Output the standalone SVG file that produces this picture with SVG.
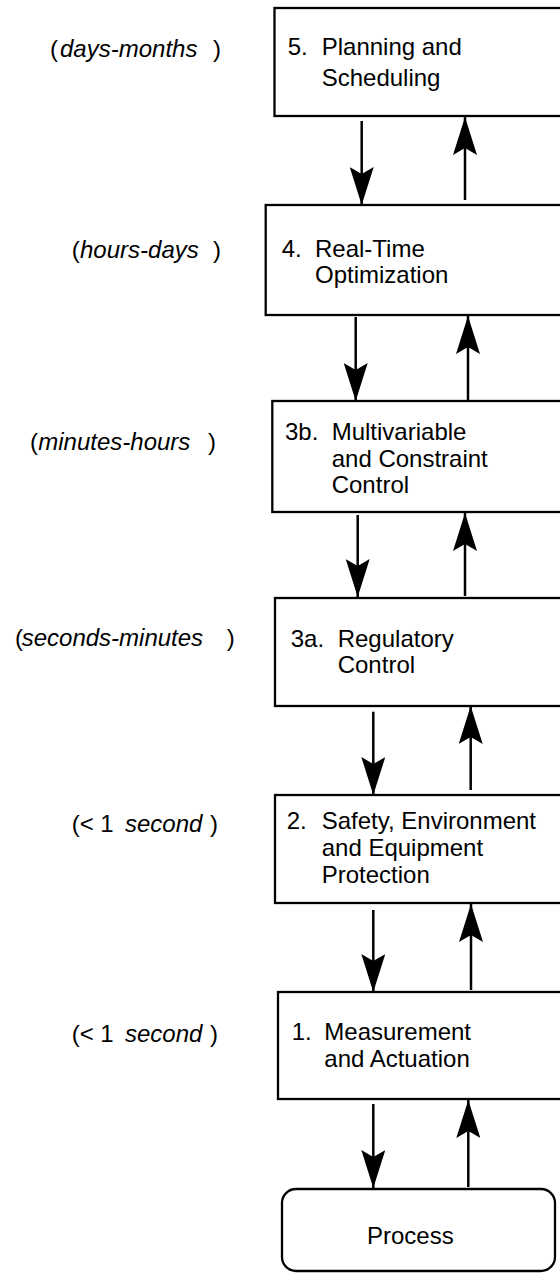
<svg xmlns="http://www.w3.org/2000/svg" width="560" height="1278" viewBox="0 0 560 1278">
<style>
.box{fill:#fff;stroke:#000;stroke-width:2.3}
.t{font-family:"Liberation Sans",Arial,sans-serif;font-size:24px;fill:#000}
.i{font-style:italic}
.c{stroke:#000;stroke-width:2.5;fill:none;marker-end:url(#ah)}
</style>
<defs>
<marker id="ah" viewBox="0 0 38 24" refX="38" refY="12" markerWidth="38" markerHeight="24" markerUnits="userSpaceOnUse" orient="auto">
<path d="M0,0 L38,12 L0,24 L7,12 z" fill="#000"/>
</marker>
</defs>
<rect width="560" height="1278" fill="#fff"/>
<g id="labels">
<text class="t" y="57"><tspan x="50">(</tspan><tspan x="60" class="i">days-months</tspan><tspan x="213">)</tspan></text>
<text class="t" y="258"><tspan x="71.7">(</tspan><tspan x="80" class="i">hours-days</tspan><tspan x="213">)</tspan></text>
<text class="t" y="450"><tspan x="30">(</tspan><tspan x="38.3" class="i">minutes-hours</tspan><tspan x="208">)</tspan></text>
<text class="t" y="646"><tspan x="15">(</tspan><tspan x="21.7" class="i">seconds-minutes</tspan><tspan x="226.7">)</tspan></text>
<text class="t" y="832"><tspan x="71.7">(&lt; 1</tspan><tspan x="125" class="i">second</tspan><tspan x="210">)</tspan></text>
<text class="t" y="1042"><tspan x="71.7">(&lt; 1</tspan><tspan x="125" class="i">second</tspan><tspan x="210">)</tspan></text>
</g>
<g id="node5">
<rect class="box" x="274.5" y="8" width="330" height="108"/>
<text class="t" y="55"><tspan x="287.7">5.</tspan><tspan x="321.7">Planning and</tspan></text>
<text class="t" x="321.7" y="86">Scheduling</text>
</g>
<g id="node4">
<rect class="box" x="265.7" y="205" width="340" height="110"/>
<text class="t" y="256.7"><tspan x="281.7">4.</tspan><tspan x="315">Real-Time</tspan></text>
<text class="t" x="315" y="283">Optimization</text>
</g>
<g id="node3b">
<rect class="box" x="272.3" y="401" width="340" height="111"/>
<text class="t" y="440"><tspan x="285">3b.</tspan><tspan x="331.7">Multivariable</tspan></text>
<text class="t" x="331.7" y="467">and Constraint</text>
<text class="t" x="331.7" y="493">Control</text>
</g>
<g id="node3a">
<rect class="box" x="275" y="598" width="340" height="108"/>
<text class="t" y="646.7"><tspan x="290.7">3a.</tspan><tspan x="337.7">Regulatory</tspan></text>
<text class="t" x="337.7" y="673">Control</text>
</g>
<g id="node2">
<rect class="box" x="275" y="795" width="340" height="108"/>
<text class="t" y="829"><tspan x="286.7">2.</tspan><tspan x="321.7">Safety, Environment</tspan></text>
<text class="t" x="321.7" y="855.7">and Equipment</text>
<text class="t" x="321.7" y="883">Protection</text>
</g>
<g id="node1">
<rect class="box" x="278" y="992" width="340" height="107"/>
<text class="t" y="1040"><tspan x="291.7">1.</tspan><tspan x="324.3">Measurement</tspan></text>
<text class="t" x="324.3" y="1066.7">and Actuation</text>
</g>
<g id="process">
<rect class="box" x="282" y="1189" width="273" height="82" rx="14"/>
<text class="t" x="410.3" y="1244" text-anchor="middle">Process</text>
</g>
<g id="connectors">
<line class="c" x1="361.7" y1="121" x2="361.7" y2="205"/>
<line class="c" x1="465" y1="200" x2="465" y2="117"/>
<line class="c" x1="355.7" y1="317" x2="355.7" y2="401"/>
<line class="c" x1="468" y1="400" x2="468" y2="316"/>
<line class="c" x1="357.7" y1="515" x2="357.7" y2="597"/>
<line class="c" x1="465" y1="596" x2="465" y2="513"/>
<line class="c" x1="373.3" y1="711.7" x2="373.3" y2="795"/>
<line class="c" x1="470.7" y1="790" x2="470.7" y2="706"/>
<line class="c" x1="373.3" y1="910" x2="373.3" y2="992"/>
<line class="c" x1="471" y1="990" x2="471" y2="904"/>
<line class="c" x1="373.3" y1="1104" x2="373.3" y2="1188"/>
<line class="c" x1="468.3" y1="1187" x2="468.3" y2="1100"/>
</g>
</svg>
